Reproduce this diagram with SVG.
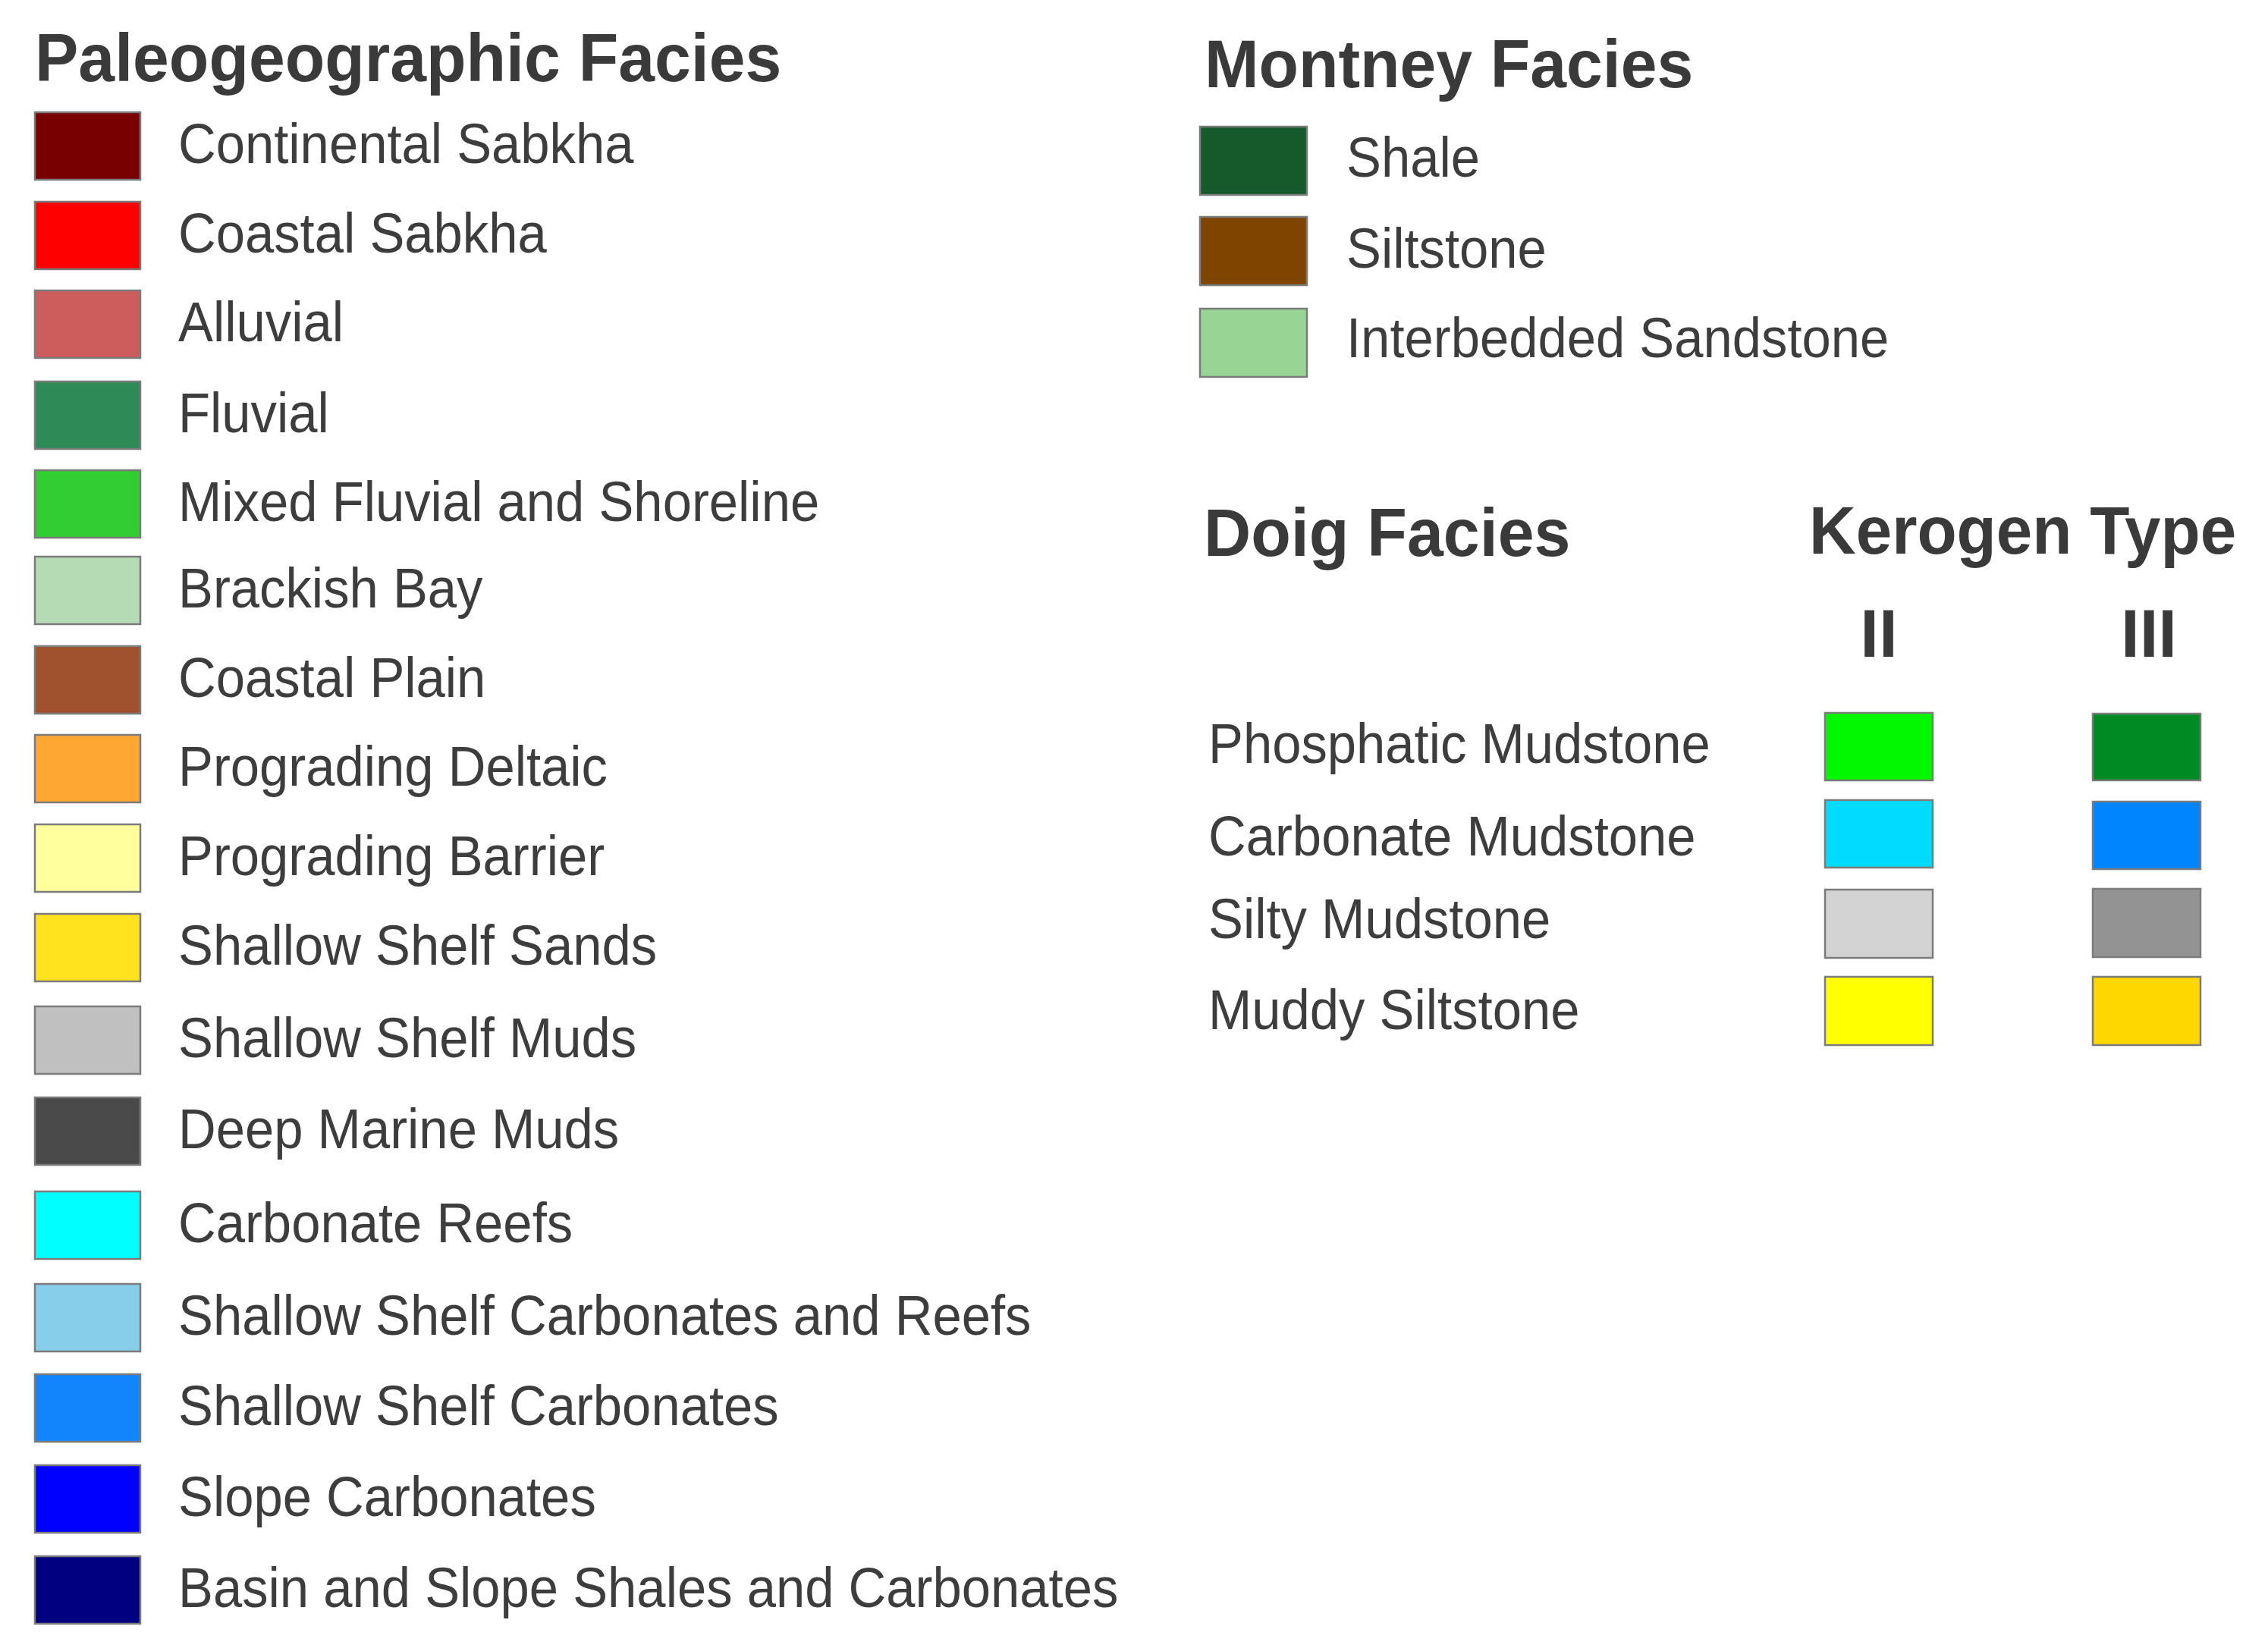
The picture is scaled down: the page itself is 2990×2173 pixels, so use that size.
<svg xmlns="http://www.w3.org/2000/svg" width="2990" height="2173" viewBox="0 0 2990 2173">
<style>
.sw{stroke:#7b7b7b;stroke-width:2.5}
.lbl{font-family:"Liberation Sans",Arial,sans-serif;font-size:74px;fill:#3d3d3d}
.ttl{font-family:"Liberation Sans",Arial,sans-serif;font-size:89px;font-weight:bold;fill:#3a3a3a}
</style>
<rect x="0" y="0" width="2990" height="2173" fill="#ffffff"/>

<g id="title-paleo"><text class="ttl" transform="translate(46,107) scale(0.966,1)">Paleogeographic Facies</text></g>
<g id="title-montney"><text class="ttl" transform="translate(1588,115) scale(0.965,1)">Montney Facies</text></g>
<g id="title-doig"><text class="ttl" transform="translate(1587,733) scale(0.968,1)">Doig Facies</text></g>
<g id="title-kerogen"><text class="ttl" transform="translate(2385,730) scale(0.96,1)">Kerogen Type</text></g>
<g id="kerogen-II"><text class="ttl" x="2477" y="866" text-anchor="middle">II</text></g>
<g id="kerogen-III"><text class="ttl" x="2833" y="866" text-anchor="middle">III</text></g>

<g id="paleo-continental-sabkha"><rect class="sw" x="46" y="148" width="139" height="89" fill="#780000"/><text class="lbl" transform="translate(235,215) scale(0.93,1)">Continental Sabkha</text></g>
<g id="paleo-coastal-sabkha"><rect class="sw" x="46" y="266" width="139" height="89" fill="#ff0000"/><text class="lbl" transform="translate(235,333) scale(0.93,1)">Coastal Sabkha</text></g>
<g id="paleo-alluvial"><rect class="sw" x="46" y="383" width="139" height="89" fill="#cd5c5c"/><text class="lbl" transform="translate(235,450) scale(0.93,1)">Alluvial</text></g>
<g id="paleo-fluvial"><rect class="sw" x="46" y="503" width="139" height="89" fill="#2e8b57"/><text class="lbl" transform="translate(235,570) scale(0.93,1)">Fluvial</text></g>
<g id="paleo-mixed-fluvial"><rect class="sw" x="46" y="620" width="139" height="89" fill="#32cd32"/><text class="lbl" transform="translate(235,687) scale(0.93,1)">Mixed Fluvial and Shoreline</text></g>
<g id="paleo-brackish-bay"><rect class="sw" x="46" y="734" width="139" height="89" fill="#b5dbb5"/><text class="lbl" transform="translate(235,801) scale(0.93,1)">Brackish Bay</text></g>
<g id="paleo-coastal-plain"><rect class="sw" x="46" y="852" width="139" height="89" fill="#a0522d"/><text class="lbl" transform="translate(235,919) scale(0.93,1)">Coastal Plain</text></g>
<g id="paleo-prograding-deltaic"><rect class="sw" x="46" y="969" width="139" height="89" fill="#ffa733"/><text class="lbl" transform="translate(235,1036) scale(0.93,1)">Prograding Deltaic</text></g>
<g id="paleo-prograding-barrier"><rect class="sw" x="46" y="1087" width="139" height="89" fill="#ffff9e"/><text class="lbl" transform="translate(235,1154) scale(0.93,1)">Prograding Barrier</text></g>
<g id="paleo-shallow-shelf-sands"><rect class="sw" x="46" y="1205" width="139" height="89" fill="#ffe31f"/><text class="lbl" transform="translate(235,1272) scale(0.93,1)">Shallow Shelf Sands</text></g>
<g id="paleo-shallow-shelf-muds"><rect class="sw" x="46" y="1327" width="139" height="89" fill="#c0c0c0"/><text class="lbl" transform="translate(235,1394) scale(0.93,1)">Shallow Shelf Muds</text></g>
<g id="paleo-deep-marine-muds"><rect class="sw" x="46" y="1447" width="139" height="89" fill="#4a4a4a"/><text class="lbl" transform="translate(235,1514) scale(0.93,1)">Deep Marine Muds</text></g>
<g id="paleo-carbonate-reefs"><rect class="sw" x="46" y="1571" width="139" height="89" fill="#00ffff"/><text class="lbl" transform="translate(235,1638) scale(0.93,1)">Carbonate Reefs</text></g>
<g id="paleo-ssc-reefs"><rect class="sw" x="46" y="1693" width="139" height="89" fill="#87ceeb"/><text class="lbl" transform="translate(235,1760) scale(0.93,1)">Shallow Shelf Carbonates and Reefs</text></g>
<g id="paleo-ssc"><rect class="sw" x="46" y="1812" width="139" height="89" fill="#1185fc"/><text class="lbl" transform="translate(235,1879) scale(0.93,1)">Shallow Shelf Carbonates</text></g>
<g id="paleo-slope-carbonates"><rect class="sw" x="46" y="1932" width="139" height="89" fill="#0000ff"/><text class="lbl" transform="translate(235,1999) scale(0.93,1)">Slope Carbonates</text></g>
<g id="paleo-basin-slope"><rect class="sw" x="46" y="2052" width="139" height="89" fill="#000080"/><text class="lbl" transform="translate(235,2119) scale(0.93,1)">Basin and Slope Shales and Carbonates</text></g>

<g id="montney-shale"><rect class="sw" x="1582" y="167" width="141" height="90" fill="#165a2b"/><text class="lbl" transform="translate(1775,233) scale(0.93,1)">Shale</text></g>
<g id="montney-siltstone"><rect class="sw" x="1582" y="286" width="141" height="90" fill="#7f4500"/><text class="lbl" transform="translate(1775,353) scale(0.93,1)">Siltstone</text></g>
<g id="montney-interbedded"><rect class="sw" x="1582" y="407" width="141" height="90" fill="#98d494"/><text class="lbl" transform="translate(1775,471) scale(0.93,1)">Interbedded Sandstone</text></g>

<g id="doig-phosphatic"><text class="lbl" transform="translate(1593,1006) scale(0.93,1)">Phosphatic Mudstone</text><rect class="sw" x="2406" y="940" width="142" height="89" fill="#00f800"/><rect class="sw" x="2759" y="941" width="142" height="88" fill="#008a24"/></g>
<g id="doig-carbonate"><text class="lbl" transform="translate(1593,1128) scale(0.93,1)">Carbonate Mudstone</text><rect class="sw" x="2406" y="1055" width="142" height="89" fill="#00dcff"/><rect class="sw" x="2759" y="1057" width="142" height="89" fill="#0085ff"/></g>
<g id="doig-silty"><text class="lbl" transform="translate(1593,1237) scale(0.93,1)">Silty Mudstone</text><rect class="sw" x="2406" y="1173" width="142" height="90" fill="#d3d3d3"/><rect class="sw" x="2759" y="1172" width="142" height="90" fill="#939393"/></g>
<g id="doig-muddy"><text class="lbl" transform="translate(1593,1357) scale(0.93,1)">Muddy Siltstone</text><rect class="sw" x="2406" y="1288" width="142" height="90" fill="#ffff00"/><rect class="sw" x="2759" y="1288" width="142" height="90" fill="#ffd700"/></g>

<g id="connectors"></g>
</svg>
